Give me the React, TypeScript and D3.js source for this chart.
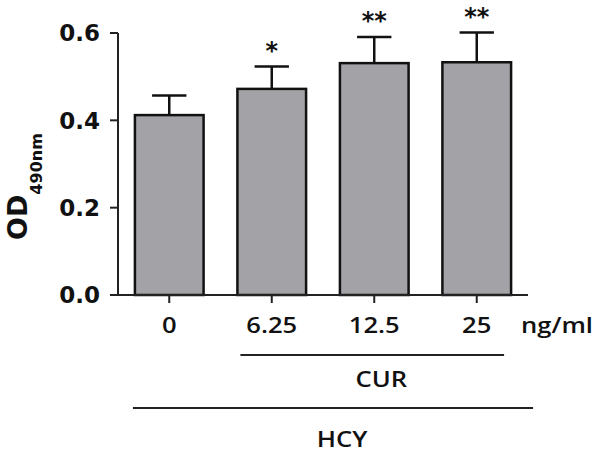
import * as d3 from 'd3'

const categories = ['0', '6.25', '12.5', '25']
const means = [0.412, 0.472, 0.531, 0.533]
const errors = [0.045, 0.051, 0.06, 0.068]
const stars = ['', '*', '**', '**']
const yTicks = [0, 0.2, 0.4, 0.6]

const width = 600
const height = 458
const left = 118
const right = 528
const bottom = 295
const top = 33

const bold = 'DejaVu Sans, sans-serif'
const plain = 'Open Sans, sans-serif'

const App = () => {
  const x = d3
    .scaleBand()
    .domain(categories)
    .range([left, right])
    .paddingInner(0.33)
    .paddingOuter(0.165)
  const y = d3.scaleLinear().domain([0, 0.6]).range([bottom, top])
  const bw = x.bandwidth()
  const fmt = d3.format('.1f')
  const first = x(categories[0]) as number
  const second = x(categories[1]) as number
  const last = (x(categories[3]) as number) + bw

  const curX1 = second + 3
  const curX2 = last - 7
  const hcyX1 = first - 2
  const hcyX2 = last + 22

  return (
    <svg
      width={width}
      height={height}
      style={{ position: 'absolute', left: 0, top: 0, background: '#fff' }}
    >
      {/* y axis */}
      <line x1={left} x2={left} y1={y(0)} y2={y(0.6)} stroke="#222" strokeWidth={2} />
      {yTicks.map((t) => (
        <g key={t}>
          <line x1={left - 8} x2={left} y1={y(t)} y2={y(t)} stroke="#222" strokeWidth={2} />
          <text
            x={100}
            y={y(t) + 8.4}
            textAnchor="end"
            fontFamily={bold}
            fontWeight="bold"
            fontSize={23}
            fill="#111"
          >
            {fmt(t)}
          </text>
        </g>
      ))}

      {/* bars */}
      {categories.map((c, i) => {
        const cx = (x(c) as number) + bw / 2
        const yTop = y(means[i])
        const yErr = y(means[i] + errors[i])
        return (
          <g key={c}>
            <line x1={cx} x2={cx} y1={yTop} y2={yErr} stroke="#111" strokeWidth={2.5} />
            <line
              x1={cx - bw / 4}
              x2={cx + bw / 4}
              y1={yErr}
              y2={yErr}
              stroke="#111"
              strokeWidth={2.5}
            />
            <rect
              x={x(c)}
              y={yTop}
              width={bw}
              height={y(0) - yTop}
              fill="#a3a3a7"
              stroke="#111"
              strokeWidth={2.5}
            />
            {stars[i] && (
              <text
                x={cx}
                y={yErr - 8}
                textAnchor="middle"
                fontFamily={bold}
                fontWeight="bold"
                fontSize={24}
                fill="#111"
              >
                {stars[i]}
              </text>
            )}
          </g>
        )
      })}

      {/* x axis */}
      <line x1={left} x2={right} y1={y(0)} y2={y(0)} stroke="#222" strokeWidth={2} />
      {categories.map((c) => {
        const cx = (x(c) as number) + bw / 2
        return (
          <g key={c}>
            <line x1={cx} x2={cx} y1={y(0)} y2={y(0) + 8} stroke="#222" strokeWidth={2} />
            <text
              transform={`translate(${cx}, 333) scale(1.22, 1)`}
              textAnchor="middle"
              fontFamily={plain}
              fontWeight={600}
              fontSize={21}
              fill="#111"
            >
              {c}
            </text>
          </g>
        )
      })}
      <text
        transform={`translate(521, 333) scale(1.22, 1)`}
        fontFamily={plain}
        fontWeight={600}
        fontSize={21}
        fill="#111"
      >
        ng/ml
      </text>

      {/* group lines */}
      <line x1={curX1} x2={curX2} y1={355} y2={355} stroke="#222" strokeWidth={2} />
      <text
        transform={`translate(${(curX1 + curX2) / 2 + 9}, 387) scale(1.22, 1)`}
        textAnchor="middle"
        fontFamily={plain}
        fontWeight={600}
        fontSize={21}
        fill="#111"
      >
        CUR
      </text>
      <line x1={hcyX1} x2={hcyX2} y1={408} y2={408} stroke="#222" strokeWidth={2} />
      <text
        transform={`translate(${(hcyX1 + hcyX2) / 2 + 9}, 447) scale(1.22, 1)`}
        textAnchor="middle"
        fontFamily={plain}
        fontWeight={600}
        fontSize={21}
        fill="#111"
      >
        HCY
      </text>

      {/* y title */}
      <text
        transform="translate(27, 240) rotate(-90)"
        fontFamily={bold}
        fontWeight="bold"
        fontSize={27}
        fill="#111"
      >
        OD
        <tspan fontSize={16} dy={15}>
          490nm
        </tspan>
      </text>
    </svg>
  )
}

export default App
